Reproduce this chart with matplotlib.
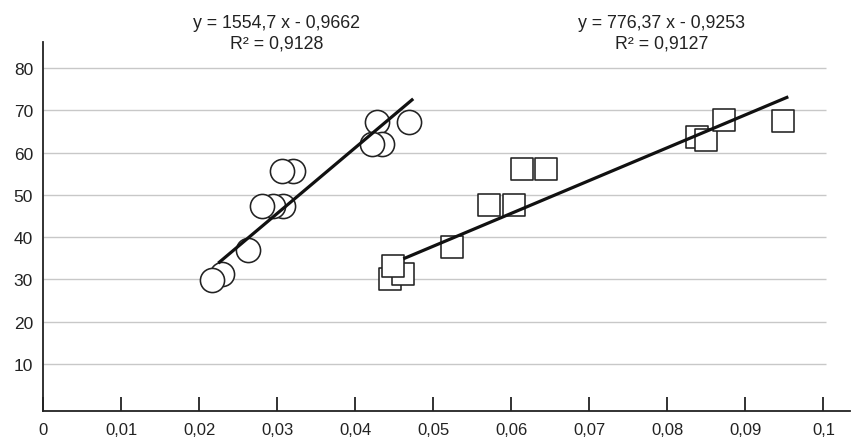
import matplotlib

matplotlib.use("Agg")
import matplotlib.pyplot as plt
import numpy as np

plt.rcParams["font.family"] = ["Liberation Sans", "DejaVu Sans"]

# circles (left series)
circle_x = [0.02156, 0.02285, 0.02626, 0.02797, 0.02946, 0.03067, 0.03054, 0.03195,
            0.04208, 0.04344, 0.04279, 0.04686]
circle_y = [29.9, 31.3, 36.9, 47.3, 47.3, 47.3, 55.6, 55.6, 62.0, 62.0, 67.3, 67.3]

# squares (right series), listed in drawing order
square_x = [0.04442, 0.04605, 0.04485, 0.05233, 0.05712, 0.06032, 0.06131, 0.06442,
            0.08382, 0.08494, 0.08728, 0.09485]
square_y = [30.1, 31.3, 33.1, 37.8, 47.7, 47.7, 56.1, 56.1, 63.6, 63.0, 67.7, 67.4]

# trend lines: slope, intercept, x range
fit1 = (1554.7, -0.9662)
fit1_x = [0.0224, 0.0474]
fit2 = (776.37, -0.9253)
fit2_x = [0.04613, 0.09549]

eq1 = ["y = 1554,7 x - 0,9662", "R² = 0,9128"]
eq2 = ["y = 776,37 x - 0,9253", "R² = 0,9127"]

y_ticks = [10, 20, 30, 40, 50, 60, 70, 80]
x_ticks = [0, 0.01, 0.02, 0.03, 0.04, 0.05, 0.06, 0.07, 0.08, 0.09, 0.1]
x_tick_labels = ["0", "0,01", "0,02", "0,03", "0,04", "0,05", "0,06", "0,07", "0,08", "0,09", "0,1"]

W, H = 854, 439
fig = plt.figure(figsize=(W / 100, H / 100), dpi=100)
ax = fig.add_axes([43.5 / W, (H - 411.5) / H, (850 - 43.5) / W, (411.5 - 43.3) / H])

ax.set_xlim(0, 0.1034)
ax.set_ylim(-0.99, 86.1)

# grid lines stop at the end of the plot area, the axis runs a bit further
ax.hlines(y_ticks, 0, 0.1003, colors="#c8c8c8", linewidth=1.0, zorder=1)

ax.scatter(circle_x[::-1], circle_y[::-1], s=17.4 ** 2, marker="o", facecolors="white",
           edgecolors="#222222", linewidths=1.15, zorder=3)
ax.scatter(square_x, square_y, s=15.2 ** 2, marker="s", facecolors="white",
           edgecolors="#222222", linewidths=1.15, zorder=3)

for (k, b), xr in ((fit1, fit1_x), (fit2, fit2_x)):
    xs = np.array(xr)
    ax.plot(xs, k * xs + b, color="#111111", linewidth=2.3, solid_capstyle="butt", zorder=4)

for side in ("top", "right"):
    ax.spines[side].set_visible(False)
for side in ("left", "bottom"):
    ax.spines[side].set_linewidth(1.3)
    ax.spines[side].set_color("#222222")

ax.set_yticks(y_ticks)
ax.set_yticklabels([str(v) for v in y_ticks])
ax.tick_params(axis="y", length=0, pad=7.5, labelsize=12.5, labelcolor="#222222")
ax.set_xticks(x_ticks)
ax.set_xticklabels(x_tick_labels)
ax.tick_params(axis="x", direction="in", length=10, width=1.3, color="#222222",
               pad=8, labelsize=12, labelcolor="#222222")

for lines, cx in ((eq1, 276.5), (eq2, 662)):
    fig.text(cx / W, 1 - 28.3 / H, lines[0], ha="center", va="baseline", fontsize=12.8, color="#222222")
    fig.text(cx / W, 1 - 48.3 / H, lines[1], ha="center", va="baseline", fontsize=12.8, color="#222222")

fig.savefig("out.png", dpi=100)
